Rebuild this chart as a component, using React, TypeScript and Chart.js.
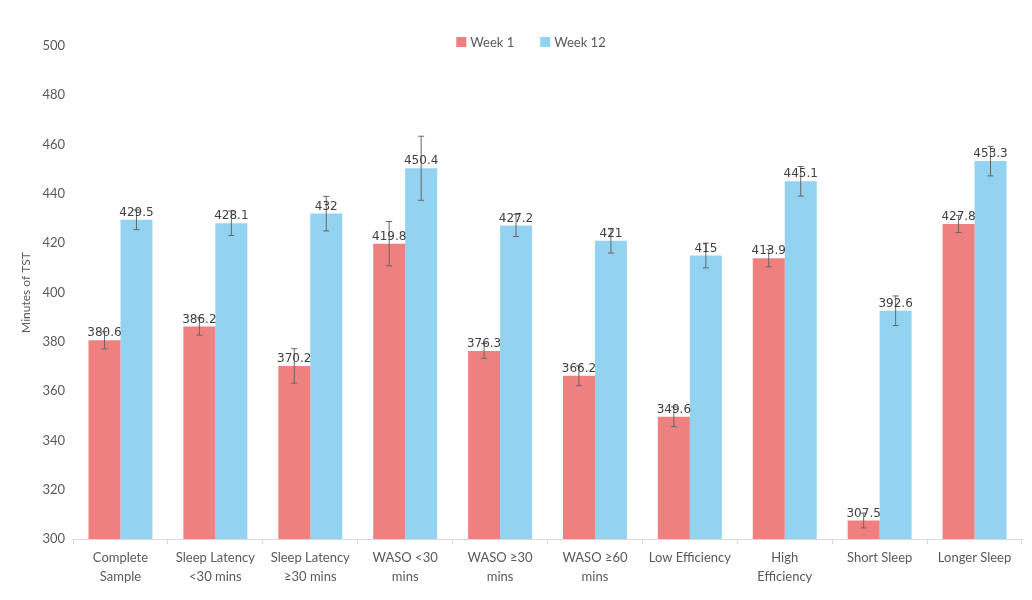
import React, { useEffect, useRef } from "react";
import { Chart, registerables } from "chart.js";

Chart.register(...registerables);

const categories: string[][] = [
  ["Complete", "Sample"],
  ["Sleep Latency", "<30 mins"],
  ["Sleep Latency", "≥30 mins"],
  ["WASO <30", "mins"],
  ["WASO ≥30", "mins"],
  ["WASO ≥60", "mins"],
  ["Low Efficiency"],
  ["High", "Efficiency"],
  ["Short Sleep"],
  ["Longer Sleep"],
];

const week1 = [380.6, 386.2, 370.2, 419.8, 376.3, 366.2, 349.6, 413.9, 307.5, 427.8];
const week12 = [429.5, 428.1, 432, 450.4, 427.2, 421, 415, 445.1, 392.6, 453.3];
const week1Err = [3.5, 3.5, 7, 9, 3, 4, 4, 3.5, 3, 3.5];
const week12Err = [4, 5, 7, 13, 4.5, 5, 5, 6, 6, 6];

const seriesNames = ["Week 1", "Week 12"];
const colors = ["#EF8080", "#93D3F1"];
const errors = [week1Err, week12Err];

const FONT = "Lato, 'Open Sans', sans-serif";

const errorBarPlugin = {
  id: "errorBars",
  afterDatasetsDraw(chart: any) {
    const ctx = chart.ctx;
    const y = chart.scales.y;
    ctx.save();
    chart.data.datasets.forEach((ds: any, di: number) => {
      const meta = chart.getDatasetMeta(di);
      meta.data.forEach((el: any, i: number) => {
        const v = ds.data[i];
        const e = errors[di][i];
        const top = y.getPixelForValue(v + e);
        const bot = y.getPixelForValue(v - e);
        ctx.strokeStyle = "#666";
        ctx.lineWidth = 1;
        ctx.beginPath();
        ctx.moveTo(el.x, top);
        ctx.lineTo(el.x, bot);
        ctx.moveTo(el.x - 3, top);
        ctx.lineTo(el.x + 3, top);
        ctx.moveTo(el.x - 3, bot);
        ctx.lineTo(el.x + 3, bot);
        ctx.stroke();
      });
    });
    ctx.font = "12px 'DejaVu Sans', sans-serif";
    ctx.fillStyle = "#404040";
    ctx.textAlign = "center";
    ctx.textBaseline = "bottom";
    chart.data.datasets.forEach((ds: any, di: number) => {
      const meta = chart.getDatasetMeta(di);
      meta.data.forEach((el: any, i: number) => {
        ctx.fillText(String(ds.data[i]), el.x, el.y - 1);
      });
    });
    ctx.restore();
  },
};

const legendPlugin = {
  id: "customLegend",
  afterDraw(chart: any) {
    const ctx = chart.ctx;
    ctx.save();
    ctx.font = "13px " + FONT;
    ctx.textBaseline = "middle";
    ctx.textAlign = "left";
    const cy = 42;
    const box = 10;
    const gap = 4;
    const spacing = 26;
    const widths = seriesNames.map((n) => box + gap + ctx.measureText(n).width);
    const total = widths.reduce((a, b) => a + b, 0) + spacing;
    let x = 531 - total / 2;
    seriesNames.forEach((n, i) => {
      ctx.fillStyle = colors[i];
      ctx.fillRect(x, cy - box / 2, box, box);
      ctx.fillStyle = "#595959";
      ctx.fillText(n, x + box + gap, cy + 1);
      x += widths[i] + spacing;
    });
    ctx.restore();
  },
};

export default function App() {
  const ref = useRef<HTMLCanvasElement>(null);
  useEffect(() => {
    if (!ref.current) return;
    const chart = new Chart(ref.current, {
      type: "bar",
      data: {
        labels: categories,
        datasets: [
          { label: seriesNames[0], data: week1, backgroundColor: colors[0], categoryPercentage: 0.674, barPercentage: 1 },
          { label: seriesNames[1], data: week12, backgroundColor: colors[1], categoryPercentage: 0.674, barPercentage: 1 },
        ],
      },
      options: {
        animation: false,
        responsive: false,
        maintainAspectRatio: false,
        layout: { padding: { top: 46, right: 10, bottom: 9, left: 11 } },
        plugins: {
          legend: { display: false },
          tooltip: { enabled: false },
        },
        scales: {
          x: {
            grid: {
              display: true,
              drawOnChartArea: false,
              drawTicks: true,
              tickLength: 5,
              color: "#D9D9D9",
              offset: true,
            },
            border: { display: true, color: "#D9D9D9" },
            ticks: {
              color: "#595959",
              font: { family: FONT, size: 13, lineHeight: 1.5 },
              maxRotation: 0,
              autoSkip: false,
              padding: 4,
            },
          },
          y: {
            min: 300,
            max: 500,
            ticks: {
              stepSize: 20,
              color: "#595959",
              font: { family: FONT, size: 13 },
              padding: 0,
            },
            grid: { display: false },
            border: { display: false },
            title: {
              display: true,
              text: "Minutes of TST",
              color: "#595959",
              font: { family: FONT, size: 12 },
              padding: { top: 8, bottom: 9 },
            },
          },
        },
      },
      plugins: [errorBarPlugin, legendPlugin],
    });
    return () => chart.destroy();
  }, []);
  return (
    <div style={{ position: "fixed", left: 0, top: 0, width: 1032, height: 600, background: "#fff" }}>
      <canvas ref={ref} width={1032} height={600} style={{ width: 1032, height: 600 }} />
    </div>
  );
}
